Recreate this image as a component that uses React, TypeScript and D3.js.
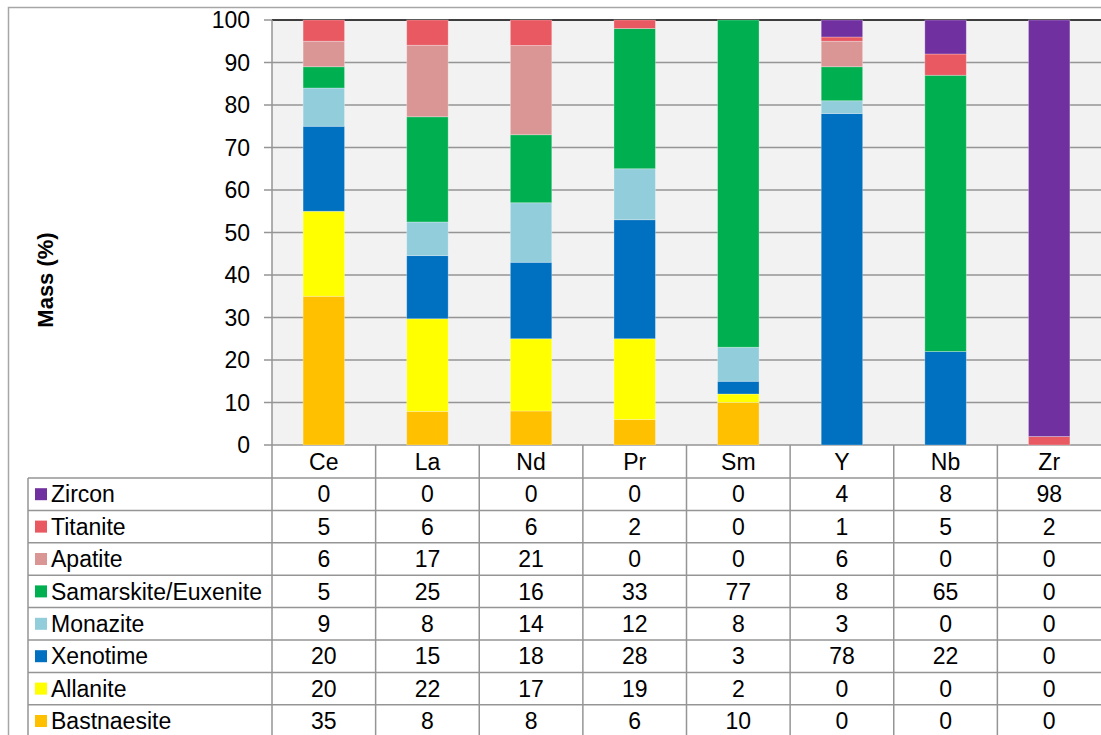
import React from "react"
import * as d3 from "d3"

const elements = ["Ce", "La", "Nd", "Pr", "Sm", "Y", "Nb", "Zr"]
// minerals, listed top row first (as in the table)
const minerals = ["Zircon", "Titanite", "Apatite", "Samarskite/Euxenite", "Monazite", "Xenotime", "Allanite", "Bastnaesite"]
const colors = ["#7030a0", "#e85962", "#da9694", "#00b050", "#92cddc", "#0070c0", "#ffff00", "#ffc000"]

const zircon = [0, 0, 0, 0, 0, 4, 8, 98]
const titanite = [5, 6, 6, 2, 0, 1, 5, 2]
const apatite = [6, 17, 21, 0, 0, 6, 0, 0]
const samarskite = [5, 25, 16, 33, 77, 8, 65, 0]
const monazite = [9, 8, 14, 12, 8, 3, 0, 0]
const xenotime = [20, 15, 18, 28, 3, 78, 22, 0]
const allanite = [20, 22, 17, 19, 2, 0, 0, 0]
const bastnaesite = [35, 8, 8, 6, 10, 0, 0, 0]

const yTicks = [0, 10, 20, 30, 40, 50, 60, 70, 80, 90, 100]

const W = 1101
const H = 735
const plotLeft = 272
const plotRight = 1101
const plotTop = 20
const plotBottom = 445
const headerBottom = 478
const rowH = 32.4
const legendLeft = 28
const font = "'Liberation Sans', Arial, sans-serif"
const lineColor = "#959595"
const fs = 23

export default function App() {
  const seriesValues = [zircon, titanite, apatite, samarskite, monazite, xenotime, allanite, bastnaesite]

  const rows = elements.map((el, i) => {
    const r: any = { el }
    minerals.forEach((m, j) => (r[m] = seriesValues[j][i]))
    return r
  })
  // 100% stacked, from bottom: Bastnaesite first
  const stackKeys = minerals.slice().reverse()
  const stacked = d3.stack().keys(stackKeys).offset(d3.stackOffsetExpand)(rows)
  const color = d3.scaleOrdinal<string, string>().domain(minerals).range(colors)

  const x = d3.scaleBand().domain(elements).range([plotLeft, plotRight]).padding(0)
  const y = d3.scaleLinear().domain([0, 100]).range([plotBottom, plotTop])
  const bw = x.bandwidth() * 0.4

  const rowY = (i: number) => headerBottom + i * rowH

  return (
    <svg width={W} height={H} style={{ position: "absolute", left: 0, top: 0, background: "#fff" }}
      fontFamily={font}>
      {/* outer chart border */}
      <rect x={8.5} y={7.5} width={W} height={H} fill="none" stroke="#a6a6a6" strokeWidth={1.5} />

      {/* plot background */}
      <rect x={plotLeft} y={plotTop} width={plotRight - plotLeft} height={plotBottom - plotTop} fill="#f2f2f2" />

      {/* gridlines + ticks */}
      {yTicks.map(t => (
        <g key={t}>
          <line x1={plotLeft - 8} x2={t === 100 ? plotLeft : plotRight} y1={y(t)} y2={y(t)} stroke={lineColor} strokeWidth={1.5} />
          <text x={250} y={y(t)} dy="0.36em" textAnchor="end" fontSize={fs} fill="#000">{t}</text>
        </g>
      ))}
      <line x1={plotLeft} x2={plotRight} y1={plotTop} y2={plotTop} stroke="#000" strokeWidth={1.5} />

      {/* bars */}
      {stacked.map(s => (
        <g key={s.key} fill={color(s.key)}>
          {s.map((d, i) => (
            d[1] - d[0] > 0 ? (
              <rect key={i} x={x(elements[i])! + (x.bandwidth() - bw) / 2} width={bw}
                y={y(d[1] * 100)} height={y(d[0] * 100) - y(d[1] * 100)} stroke="#ffffff" strokeOpacity={0.35} strokeWidth={0.8} />
            ) : null
          ))}
        </g>
      ))}

      {/* data table */}
      <line x1={plotLeft} x2={plotLeft} y1={plotTop} y2={H} stroke={lineColor} strokeWidth={1.5} />
      {elements.map((el, i) => (
        <g key={el}>
          {i > 0 && <line x1={x(el)} x2={x(el)} y1={plotBottom} y2={H} stroke={lineColor} strokeWidth={1.5} />}
          <text x={x(el)! + x.bandwidth() / 2} y={(plotBottom + headerBottom) / 2} dy="0.36em"
            textAnchor="middle" fontSize={fs}>{el}</text>
        </g>
      ))}
      <line x1={legendLeft} x2={legendLeft} y1={headerBottom} y2={H} stroke={lineColor} strokeWidth={1.5} />
      {d3.range(minerals.length + 1).map(i => (
        <line key={i} x1={legendLeft} x2={plotRight} y1={rowY(i)} y2={rowY(i)} stroke={lineColor} strokeWidth={1.5} />
      ))}
      {minerals.map((m, j) => {
        const cy = rowY(j) + rowH / 2
        return (
          <g key={m}>
            <rect x={35} y={cy - 6} width={12} height={12} fill={colors[j]} />
            <text x={51} y={cy} dy="0.36em" fontSize={fs}>{m}</text>
            {seriesValues[j].map((v, i) => (
              <text key={i} x={x(elements[i])! + x.bandwidth() / 2} y={cy} dy="0.36em" textAnchor="middle" fontSize={fs}>{v}</text>
            ))}
          </g>
        )
      })}

      {/* y axis title */}
      <text transform={`translate(53,${280}) rotate(-90)`} textAnchor="middle" fontSize={22} fontWeight="bold">Mass (%)</text>
    </svg>
  )
}
